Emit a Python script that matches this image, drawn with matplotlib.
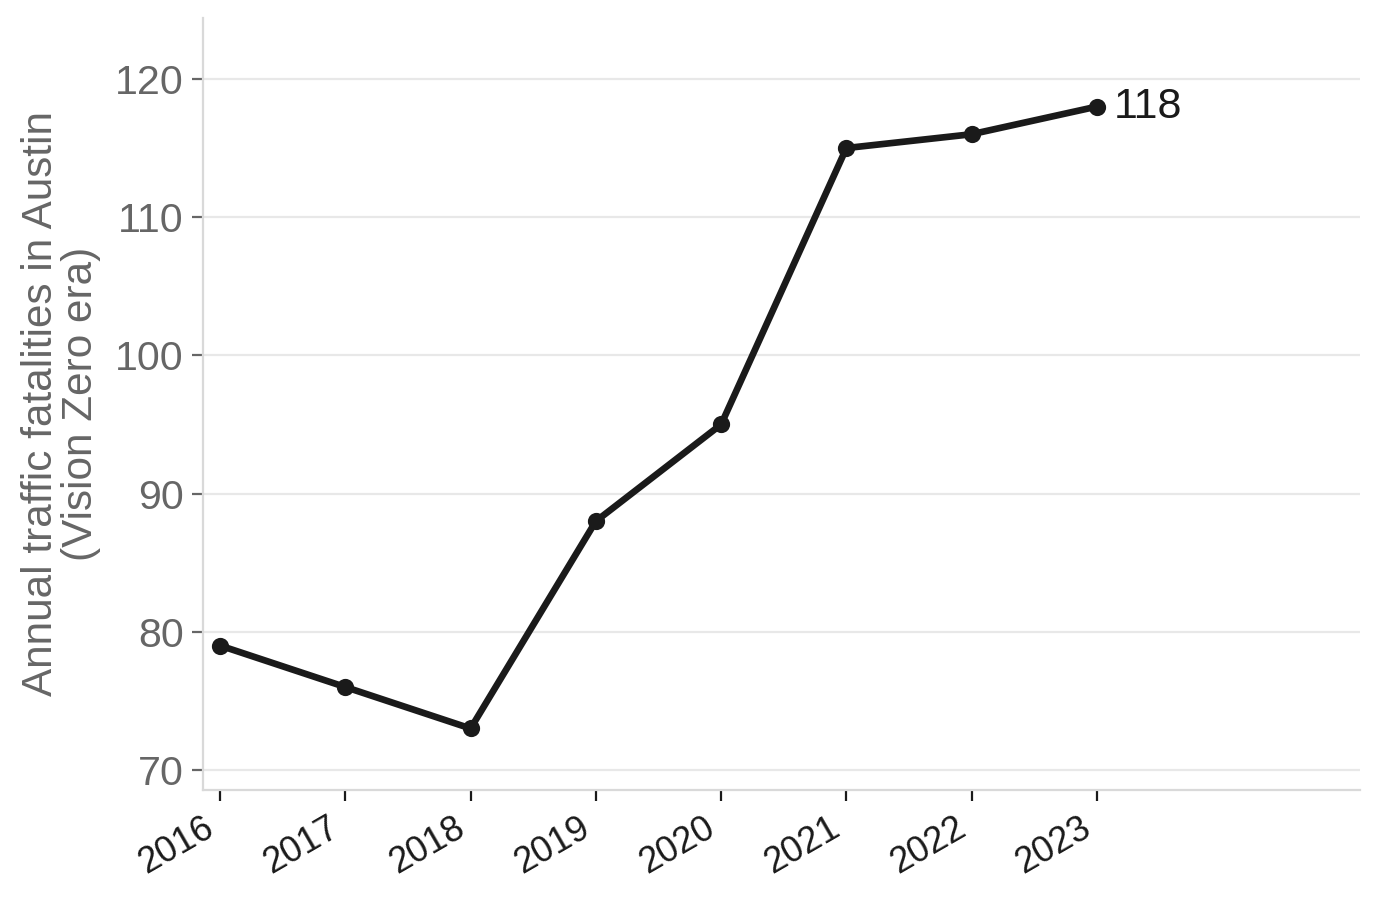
import matplotlib
matplotlib.use("Agg")
import matplotlib.pyplot as plt
from matplotlib.transforms import ScaledTranslation

years = [2016, 2017, 2018, 2019, 2020, 2021, 2022, 2023]
fatalities = [79, 76, 73, 88, 95, 115, 116, 118]
yticks = [70, 80, 90, 100, 110, 120]

plt.rcParams['font.family'] = ['Liberation Sans', 'DejaVu Sans']

fig = plt.figure(figsize=(6.9, 4.495), dpi=200)
ax = fig.add_axes([203/1380, 1 - 790/899, (1360-203)/1380, (790-18)/899])

ax.plot(years, fatalities, color='#1a1a1a', lw=2.4, marker='o', ms=5.2, zorder=3)
ax.annotate(str(fatalities[-1]), xy=(years[-1], fatalities[-1]), xytext=(6, 0),
            textcoords='offset points', va='center', ha='left', fontsize=15.5, color='#1a1a1a')

ax.set_xlim(2015.864, 2025.1)
ax.set_ylim(68.55, 124.41)
ax.set_yticks(yticks)
ax.set_xticks(years)
ax.set_xticklabels([str(y) for y in years], rotation=30, ha='right',
                   fontsize=13.0, color='#1a1a1a')
off = ScaledTranslation(-2.8/72, 0, fig.dpi_scale_trans)
for lab in ax.get_xticklabels():
    lab.set_transform(lab.get_transform() + off)
ax.tick_params(axis='y', labelsize=14.8, colors='#666666', length=4, width=0.8, pad=3)
ax.tick_params(axis='x', length=4, width=0.8, color='#1a1a1a', pad=3.2)
ax.grid(axis='y', color='#e8e8e8', lw=0.8)
ax.set_axisbelow(True)
for s in ['top', 'right']:
    ax.spines[s].set_visible(False)
for s in ['left', 'bottom']:
    ax.spines[s].set_color('#d9d9d9')
    ax.spines[s].set_linewidth(0.8)
ax.set_ylabel('Annual traffic fatalities in Austin\n(Vision Zero era)', fontsize=15.2,
              color='#666666', labelpad=5, linespacing=1.0)

fig.savefig('out.png', dpi=200)
